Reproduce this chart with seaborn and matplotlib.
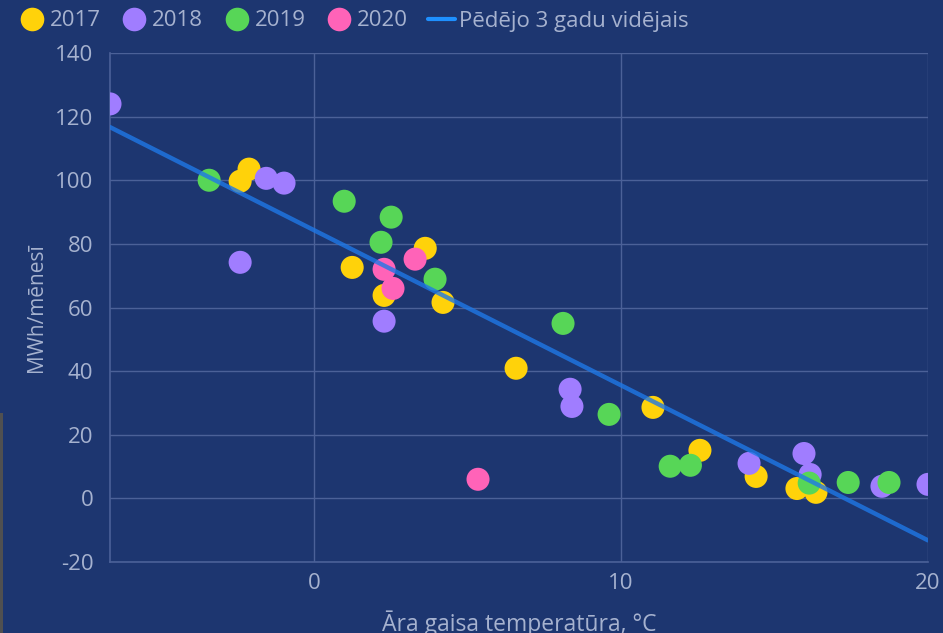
import matplotlib
matplotlib.use("Agg")
import matplotlib.pyplot as plt
from matplotlib.lines import Line2D
from matplotlib.patches import Rectangle
import seaborn as sns
import pandas as pd

# ---- data ----
years = ["2017", "2018", "2019", "2020"]

temp_2017 = [-2.41, -2.12, 1.24, 2.28, 3.62, 4.2, 6.58, 11.04, 12.57, 14.4, 15.73, 16.35]
mwh_2017 = [99.7, 103.5, 72.6, 63.8, 78.6, 61.6, 40.9, 28.6, 15.1, 6.9, 3.1, 1.9]

temp_2018 = [-6.65, -2.41, -1.56, -0.98, 2.28, 8.34, 8.4, 14.17, 15.96, 16.16, 18.5, 20.0]
mwh_2018 = [124.0, 74.2, 100.6, 99.1, 55.7, 34.3, 28.9, 11.0, 14.1, 7.5, 3.8, 4.4]

temp_2019 = [-3.42, 0.98, 2.18, 2.51, 3.94, 8.11, 9.61, 11.6, 12.26, 16.13, 17.4, 18.73]
mwh_2019 = [100.0, 93.4, 80.5, 88.4, 68.9, 55.0, 26.4, 10.1, 10.4, 4.8, 5.0, 5.0]

temp_2020 = [2.28, 2.57, 3.29, 5.34]
mwh_2020 = [72.0, 66.0, 75.2, 6.0]

trend_x = [-6.65, 20.0]
trend_y = [116.7, -13.2]
trend_label = "Pēdējo 3 gadu vidējais"

x_ticks = [0, 10, 20]
y_ticks = [-20, 0, 20, 40, 60, 80, 100, 120, 140]

xlabel = "Āra gaisa temperatūra, °C"
ylabel = "MWh/mēnesī"

# ---- styling ----
BG = "#1d3670"
GRID = "#4b6198"
TXT = "#a6b2cf"
palette = {"2017": "#ffd20a", "2018": "#a07dff", "2019": "#57d657", "2020": "#ff63b8"}
LINE = "#1f78e6"

temps = [temp_2017, temp_2018, temp_2019, temp_2020]
vals = [mwh_2017, mwh_2018, mwh_2019, mwh_2020]
rows = []
for yr, tx, vy in zip(years, temps, vals):
    for a, b in zip(tx, vy):
        rows.append({"temp": a, "mwh": b, "year": yr})
df = pd.DataFrame(rows)
trend = pd.DataFrame({"x": trend_x, "y": trend_y})

sns.set_theme(style="white")
plt.rcParams["font.family"] = ["Open Sans", "DejaVu Sans"]

W, H = 943, 633
fig = plt.figure(figsize=(W / 100, H / 100), dpi=100, facecolor=BG)
ax = fig.add_axes([110 / W, 1 - 562 / H, 818 / W, 509 / H])
ax.set_facecolor(BG)

sns.scatterplot(data=df, x="temp", y="mwh", hue="year", hue_order=years,
                palette=palette, s=275, linewidth=0, ax=ax, legend=False,
                zorder=3, clip_on=True)
sns.lineplot(data=trend, x="x", y="y", ax=ax, color=LINE, linewidth=3.2,
             alpha=0.8, zorder=4, legend=False)

ax.set_xlim(trend_x[0], 20.0)
ax.set_ylim(-20, 140)
ax.set_xticks(x_ticks)
ax.set_yticks(y_ticks)
ax.set_yticklabels([str(v) for v in y_ticks])
ax.grid(True, color=GRID, linewidth=1.0)
ax.set_axisbelow(True)
for s in ["top", "right"]:
    ax.spines[s].set_visible(False)
for s in ["left", "bottom"]:
    ax.spines[s].set_color(GRID)
    ax.spines[s].set_linewidth(1.2)
ax.tick_params(axis="both", colors=GRID, labelcolor=TXT, labelsize=16,
               length=6, width=1.0, direction="out")
ax.tick_params(axis="x", pad=2)
ax.tick_params(axis="y", pad=6)

ax.set_xlabel(xlabel, color=TXT, fontsize=16.5)
ax.xaxis.label.set_va("baseline")
ax.xaxis.set_label_coords(0.5, (562 - 631) / 509)
ax.set_ylabel(ylabel, color=TXT, fontsize=15)
ax.yaxis.label.set_va("center")
ax.yaxis.set_label_coords((37 - 110) / 818, 0.5)

handles = [Line2D([0], [0], marker="o", linestyle="", markersize=17,
                  markerfacecolor=palette[y], markeredgewidth=0) for y in years]
handles.append(Line2D([0], [0], color="#1e90ff", linewidth=3))
labels = years + [trend_label]
leg = fig.legend(handles, labels, loc="center left",
                 bbox_to_anchor=(18.7 / W, 1 - 21 / H),
                 ncol=5, frameon=False, fontsize=16, handlelength=1.2,
                 handletextpad=0.21, columnspacing=0.9, borderpad=0,
                 borderaxespad=0)
for t in leg.get_texts():
    t.set_color(TXT)

# thin grey strip at the left edge of the screenshot
fig.patches.append(Rectangle((0, 0), 3 / W, 1 - 413 / H, transform=fig.transFigure,
                             facecolor="#505050", edgecolor="none", zorder=0))

fig.savefig("out.png", dpi=100, facecolor=BG)
